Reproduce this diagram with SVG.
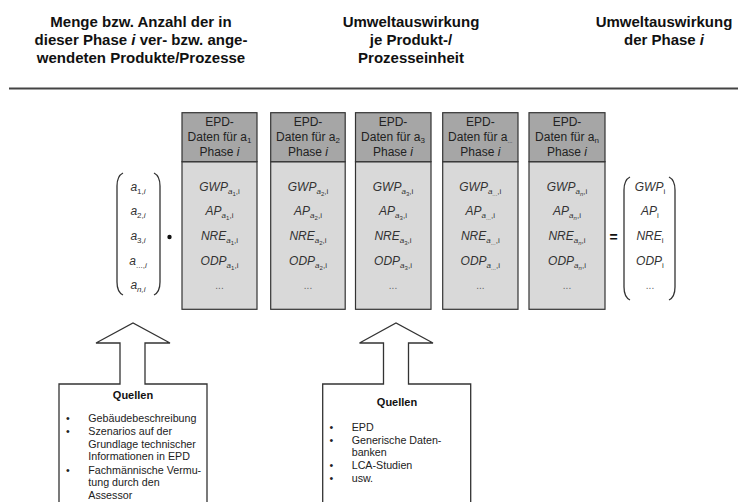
<svg xmlns="http://www.w3.org/2000/svg" width="738" height="502" viewBox="0 0 738 502">
<style>
text{font-family:"Liberation Sans",Arial,sans-serif;}
.h{font-size:15px;font-weight:bold;fill:#111;text-anchor:middle;}
.bh{font-size:12px;fill:#222;text-anchor:middle;}
.bt{font-size:12px;fill:#333;text-anchor:middle;font-style:italic;}
.dots{font-size:10px;fill:#666;text-anchor:middle;}
.hd{fill:#a6a6a6;stroke:#333;stroke-width:1.2;}
.bd{fill:#d9d9d9;stroke:#333;stroke-width:1.2;}
.par{fill:none;stroke:#333;stroke-width:1.3;}
.arr{fill:#fff;stroke:#333;stroke-width:1.3;}
.q{font-size:11px;font-weight:bold;fill:#111;text-anchor:middle;}
.l{font-size:10.7px;fill:#222;}
.s{font-size:8px;}
.ss{font-size:6px;}
</style>
<rect width="738" height="502" fill="#fff"/>
<g id="headers">
<text class="h" x="141" y="27">Menge bzw. Anzahl der in</text>
<text class="h" x="141" y="45">dieser Phase <tspan font-style="italic">i</tspan> ver- bzw. ange-</text>
<text class="h" x="141" y="63">wendeten Produkte/Prozesse</text>
<text class="h" x="411" y="27">Umweltauswirkung</text>
<text class="h" x="411" y="45">je Produkt-/</text>
<text class="h" x="411" y="63">Prozesseinheit</text>
<text class="h" x="664" y="27">Umweltauswirkung</text>
<text class="h" x="664" y="45">der Phase <tspan font-style="italic">i</tspan></text>
<line x1="9" y1="88.5" x2="738" y2="88.5" stroke="#444" stroke-width="2"/>
</g>
<g id="vector-a">
<path class="par" d="M123,173 Q117,176 117,186 L117,282 Q117,292 123,295"/>
<path class="par" d="M154,173 Q160,176 160,186 L160,282 Q160,292 154,295"/>
<text class="bt" x="138" y="191">a<tspan class="s" dy="3" font-style="normal">1,</tspan><tspan class="s">i</tspan></text>
<text class="bt" x="138" y="215">a<tspan class="s" dy="3" font-style="normal">2,</tspan><tspan class="s">i</tspan></text>
<text class="bt" x="138" y="240">a<tspan class="s" dy="3" font-style="normal">3,</tspan><tspan class="s">i</tspan></text>
<text class="bt" x="138" y="265">a<tspan class="s" dy="3" font-style="normal">...,</tspan><tspan class="s">i</tspan></text>
<text class="bt" x="138" y="289">a<tspan class="s" dy="3">n,i</tspan></text>
</g>
<g id="dot"><circle cx="169.5" cy="237" r="2.2" fill="#111"/></g>
<g id="box1">
<rect class="bd" x="182" y="161.7" width="75" height="147.6"/>
<rect class="hd" x="182" y="112.7" width="75" height="49"/>
<text class="bh" x="219.5" y="126">EPD-</text>
<text class="bh" x="219.5" y="141">Daten für a<tspan class="s" dy="2">1</tspan></text>
<text class="bh" x="219.5" y="156">Phase <tspan font-style="italic">i</tspan></text>
<text class="bt" x="219.5" y="191">GWP<tspan class="s" dy="3">a</tspan><tspan class="ss" dy="1.5" font-style="normal">1</tspan><tspan class="s" dy="-1.5" font-style="normal">,i</tspan></text>
<text class="bt" x="219.5" y="215">AP<tspan class="s" dy="3">a</tspan><tspan class="ss" dy="1.5" font-style="normal">1</tspan><tspan class="s" dy="-1.5" font-style="normal">,i</tspan></text>
<text class="bt" x="219.5" y="240">NRE<tspan class="s" dy="3">a</tspan><tspan class="ss" dy="1.5" font-style="normal">1</tspan><tspan class="s" dy="-1.5" font-style="normal">,i</tspan></text>
<text class="bt" x="219.5" y="265">ODP<tspan class="s" dy="3">a</tspan><tspan class="ss" dy="1.5" font-style="normal">1</tspan><tspan class="s" dy="-1.5" font-style="normal">,i</tspan></text>
<text class="dots" x="219.5" y="289">...</text>
</g>
<g id="box2">
<rect class="bd" x="270.7" y="161.7" width="74.5" height="147.6"/>
<rect class="hd" x="270.7" y="112.7" width="74.5" height="49"/>
<text class="bh" x="308" y="126">EPD-</text>
<text class="bh" x="308" y="141">Daten für a<tspan class="s" dy="2">2</tspan></text>
<text class="bh" x="308" y="156">Phase <tspan font-style="italic">i</tspan></text>
<text class="bt" x="308" y="191">GWP<tspan class="s" dy="3">a</tspan><tspan class="ss" dy="1.5" font-style="normal">2</tspan><tspan class="s" dy="-1.5" font-style="normal">,i</tspan></text>
<text class="bt" x="308" y="215">AP<tspan class="s" dy="3">a</tspan><tspan class="ss" dy="1.5" font-style="normal">2</tspan><tspan class="s" dy="-1.5" font-style="normal">,i</tspan></text>
<text class="bt" x="308" y="240">NRE<tspan class="s" dy="3">a</tspan><tspan class="ss" dy="1.5" font-style="normal">2</tspan><tspan class="s" dy="-1.5" font-style="normal">,i</tspan></text>
<text class="bt" x="308" y="265">ODP<tspan class="s" dy="3">a</tspan><tspan class="ss" dy="1.5" font-style="normal">2</tspan><tspan class="s" dy="-1.5" font-style="normal">,i</tspan></text>
<text class="dots" x="308" y="289">...</text>
</g>
<g id="box3">
<rect class="bd" x="355.5" y="161.7" width="75.5" height="147.6"/>
<rect class="hd" x="355.5" y="112.7" width="75.5" height="49"/>
<text class="bh" x="393" y="126">EPD-</text>
<text class="bh" x="393" y="141">Daten für a<tspan class="s" dy="2">3</tspan></text>
<text class="bh" x="393" y="156">Phase <tspan font-style="italic">i</tspan></text>
<text class="bt" x="393" y="191">GWP<tspan class="s" dy="3">a</tspan><tspan class="ss" dy="1.5" font-style="normal">3</tspan><tspan class="s" dy="-1.5" font-style="normal">,i</tspan></text>
<text class="bt" x="393" y="215">AP<tspan class="s" dy="3">a</tspan><tspan class="ss" dy="1.5" font-style="normal">3</tspan><tspan class="s" dy="-1.5" font-style="normal">,i</tspan></text>
<text class="bt" x="393" y="240">NRE<tspan class="s" dy="3">a</tspan><tspan class="ss" dy="1.5" font-style="normal">3</tspan><tspan class="s" dy="-1.5" font-style="normal">,i</tspan></text>
<text class="bt" x="393" y="265">ODP<tspan class="s" dy="3">a</tspan><tspan class="ss" dy="1.5" font-style="normal">3</tspan><tspan class="s" dy="-1.5" font-style="normal">,i</tspan></text>
<text class="dots" x="393" y="289">...</text>
</g>
<g id="box4">
<rect class="bd" x="442.7" y="161.7" width="75.3" height="147.6"/>
<rect class="hd" x="442.7" y="112.7" width="75.3" height="49"/>
<text class="bh" x="480.3" y="126">EPD-</text>
<text class="bh" x="480.3" y="141">Daten für a<tspan class="ss" dy="2">...</tspan></text>
<text class="bh" x="480.3" y="156">Phase <tspan font-style="italic">i</tspan></text>
<text class="bt" x="480.3" y="191">GWP<tspan class="s" dy="3">a</tspan><tspan class="ss" dy="1.5" font-style="normal">...</tspan><tspan class="s" dy="-1.5" font-style="normal">,i</tspan></text>
<text class="bt" x="480.3" y="215">AP<tspan class="s" dy="3">a</tspan><tspan class="ss" dy="1.5" font-style="normal">...</tspan><tspan class="s" dy="-1.5" font-style="normal">,i</tspan></text>
<text class="bt" x="480.3" y="240">NRE<tspan class="s" dy="3">a</tspan><tspan class="ss" dy="1.5" font-style="normal">...</tspan><tspan class="s" dy="-1.5" font-style="normal">,i</tspan></text>
<text class="bt" x="480.3" y="265">ODP<tspan class="s" dy="3">a</tspan><tspan class="ss" dy="1.5" font-style="normal">...</tspan><tspan class="s" dy="-1.5" font-style="normal">,i</tspan></text>
<text class="dots" x="480.3" y="289">...</text>
</g>
<g id="box5">
<rect class="bd" x="529" y="161.7" width="76" height="147.6"/>
<rect class="hd" x="529" y="112.7" width="76" height="49"/>
<text class="bh" x="567" y="126">EPD-</text>
<text class="bh" x="567" y="141">Daten für a<tspan class="s" dy="2">n</tspan></text>
<text class="bh" x="567" y="156">Phase <tspan font-style="italic">i</tspan></text>
<text class="bt" x="567" y="191">GWP<tspan class="s" dy="3">a</tspan><tspan class="ss" dy="1.5">n</tspan><tspan class="s" dy="-1.5" font-style="normal">,i</tspan></text>
<text class="bt" x="567" y="215">AP<tspan class="s" dy="3">a</tspan><tspan class="ss" dy="1.5">n</tspan><tspan class="s" dy="-1.5" font-style="normal">,i</tspan></text>
<text class="bt" x="567" y="240">NRE<tspan class="s" dy="3">a</tspan><tspan class="ss" dy="1.5">n</tspan><tspan class="s" dy="-1.5" font-style="normal">,i</tspan></text>
<text class="bt" x="567" y="265">ODP<tspan class="s" dy="3">a</tspan><tspan class="ss" dy="1.5">n</tspan><tspan class="s" dy="-1.5" font-style="normal">,i</tspan></text>
<text class="dots" x="567" y="289">...</text>
</g>
<g id="equals"><text x="613.5" y="242" font-size="14" font-weight="bold" text-anchor="middle" fill="#111">=</text></g>
<g id="vector-result">
<path class="par" d="M630,177 Q624,180 624,190 L624,287 Q624,297 630,300"/>
<path class="par" d="M669,177 Q675,180 675,190 L675,287 Q675,297 669,300"/>
<text class="bt" x="650" y="191">GWP<tspan class="s" dy="3" font-style="normal">i</tspan></text>
<text class="bt" x="650" y="215">AP<tspan class="s" dy="3" font-style="normal">i</tspan></text>
<text class="bt" x="650" y="240">NRE<tspan class="s" dy="3" font-style="normal">i</tspan></text>
<text class="bt" x="650" y="265">ODP<tspan class="s" dy="3" font-style="normal">i</tspan></text>
<text class="dots" x="650" y="289">...</text>
</g>
<g id="connectors">
<path class="arr" d="M59,510 L59,384 L120,384 L120,343 L96,343 L133,323 L170,343 L145,343 L145,384 L207,384 L207,510"/>
<path class="arr" d="M322.7,510 L322.7,384 L383.5,384 L383.5,343 L359.5,343 L396,323 L433,343 L408.5,343 L408.5,384 L470.7,384 L470.7,510"/>
</g>
<g id="quellen1">
<text class="q" x="133" y="399">Quellen</text>
<g class="l">
<text x="66" y="422">•</text><text x="88.3" y="422">Gebäudebeschreibung</text>
<text x="66" y="435">•</text><text x="88.3" y="435">Szenarios auf der</text>
<text x="88.3" y="447.5">Grundlage technischer</text>
<text x="88.3" y="460">Informationen in EPD</text>
<text x="66" y="473.5">•</text><text x="88.3" y="473.5">Fachmännische Vermu-</text>
<text x="88.3" y="486">tung durch den</text>
<text x="88.3" y="498.5">Assessor</text>
</g>
</g>
<g id="quellen2">
<text class="q" x="397" y="405.5">Quellen</text>
<g class="l">
<text x="329.5" y="431">•</text><text x="351.7" y="431">EPD</text>
<text x="329.5" y="443.5">•</text><text x="351.7" y="443.5">Generische Daten-</text>
<text x="351.7" y="456">banken</text>
<text x="329.5" y="468.5">•</text><text x="351.7" y="468.5">LCA-Studien</text>
<text x="329.5" y="482">•</text><text x="351.7" y="482">usw.</text>
</g>
</g>
</svg>
